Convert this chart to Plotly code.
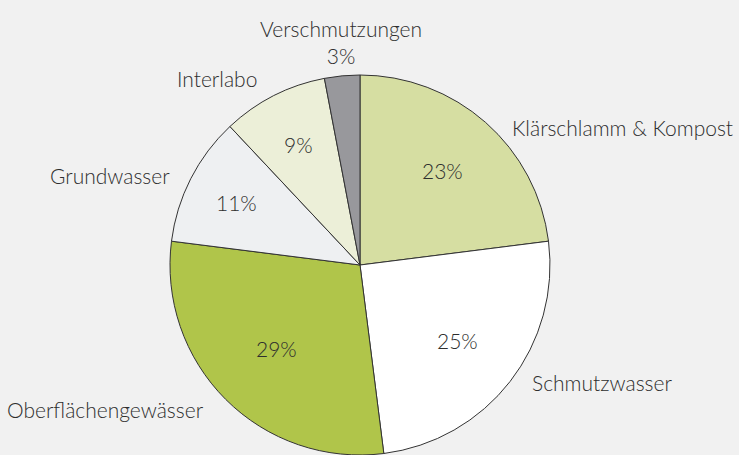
import math
import plotly.graph_objects as go

categories = ["Klärschlamm & Kompost", "Schmutzwasser", "Oberflächengewässer",
              "Grundwasser", "Interlabo", "Verschmutzungen"]
values = [23, 25, 29, 11, 9, 3]
colors = ["#d6dea2", "#ffffff", "#b0c54a", "#eef0f2", "#ecefd8", "#98989c"]

# layout-only styling: outside category label centres (px) and radial factor for % labels
label_pos = {
    "Klärschlamm & Kompost": (622, 127),
    "Schmutzwasser": (602, 382),
    "Oberflächengewässer": (106, 409),
    "Grundwasser": (110, 176),
    "Interlabo": (217, 78),
    "Verschmutzungen": (341, 27),
}
pct_radius = [0.66, 0.65, 0.62, 0.73, 0.71, None]

W, H = 739, 455
CX, CY, R = 360, 265, 190
FONT = "Lato"
FS = 21
TXT = "#2e2e2e"

total = sum(values)
pct = [f"{round(v / total * 100)}%" for v in values]

fig = go.Figure(go.Pie(
    labels=categories,
    values=values,
    sort=False,
    direction="clockwise",
    rotation=0,
    marker=dict(colors=colors, line=dict(color="#333333", width=1)),
    textinfo="none",
    domain=dict(x=[(CX - R) / W, (CX + R) / W], y=[0, 2 * R / H]),
    showlegend=False,
    hoverinfo="label+percent",
))

annotations = []
cum = 0
for c, v, p, rf in zip(categories, values, pct, pct_radius):
    mid = (cum + v / 2) / total * 2 * math.pi
    cum += v
    if rf is not None:
        px = CX + rf * R * math.sin(mid)
        py = CY - rf * R * math.cos(mid)
        annotations.append(dict(
            x=px / W, y=1 - py / H, xref="paper", yref="paper",
            text=p, showarrow=False, xanchor="center", yanchor="middle",
            font=dict(family=FONT, size=FS, color=TXT, weight=300),
        ))
    x, y = label_pos[c]
    t = c
    if c == "Verschmutzungen":
        t = c + "<br>" + p
        y = y + 15
    annotations.append(dict(
        x=x / W, y=1 - y / H, xref="paper", yref="paper",
        text=t, showarrow=False, xanchor="center", yanchor="middle",
        font=dict(family=FONT, size=FS, color=TXT, weight=300),
    ))

fig.update_layout(
    width=W, height=H,
    margin=dict(l=0, r=0, t=0, b=0),
    paper_bgcolor="#f1f1f1",
    plot_bgcolor="#f1f1f1",
    annotations=annotations,
)

fig.write_html(
    "out.html",
    config={"displayModeBar": False},
    post_script="document.body.style.margin='0';document.body.style.overflow='hidden';",
)
